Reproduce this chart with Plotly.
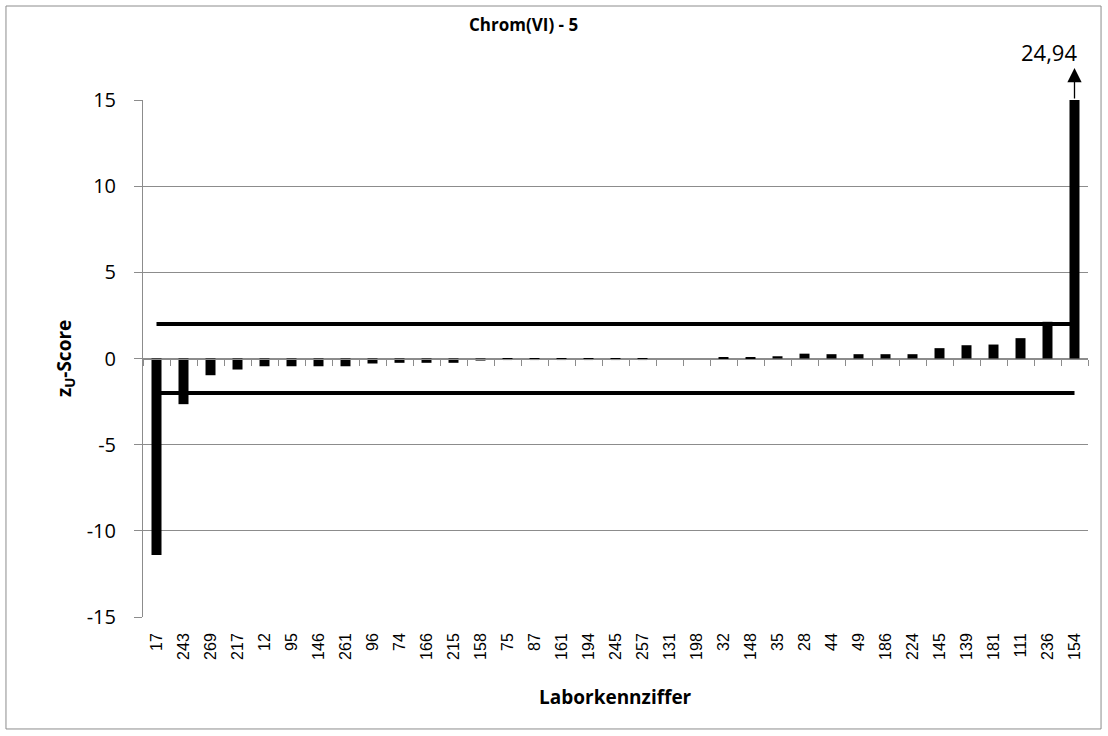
import plotly.graph_objects as go

# Laborkennziffern in Reihenfolge der Darstellung
labs = ["17", "243", "269", "217", "12", "95", "146", "261", "96", "74",
        "166", "215", "158", "75", "87", "161", "194", "245", "257", "131",
        "198", "32", "148", "35", "28", "44", "49", "186", "224", "145",
        "139", "181", "111", "236", "154"]
z_scores = [-11.4, -2.65, -0.97, -0.64, -0.45, -0.45, -0.45, -0.45, -0.29, -0.25,
            -0.25, -0.25, -0.12, -0.09, -0.09, -0.09, -0.09, -0.09, -0.09, 0.0,
            0.0, 0.05, 0.05, 0.13, 0.28, 0.25, 0.25, 0.25, 0.25, 0.6,
            0.77, 0.81, 1.18, 2.13, 24.94]
upper_limit = 2
lower_limit = -2
y_ticks = [-15, -10, -5, 0, 5, 10, 15]
y_tick_text = ["-15", "-10", "-5", "0", "5", "10", "15"]
outlier_label = "24,94"

GRID = "#8c8c8c"
x_range = [-0.5, len(labs) - 0.5]
# paper x of the last category (the clipped outlier)
x_last = (len(labs) - 0.5) / len(labs)

fig = go.Figure()
fig.add_trace(go.Bar(x=labs, y=z_scores, marker={"color": "black", "line": {"width": 0}},
                     showlegend=False))
for lim in (upper_limit, lower_limit):
    fig.add_trace(go.Scatter(x=labs, y=[lim] * len(labs), mode="lines",
                             line={"color": "black", "width": 4}, showlegend=False))
# category axis at zero with ticks between categories
fig.add_trace(go.Scatter(x=labs, y=[0] * len(labs), xaxis="x2", mode="markers",
                         marker={"opacity": 0}, showlegend=False, hoverinfo="skip"))

fig.update_layout(
    width=1108, height=736,
    margin={"l": 143, "r": 20, "t": 100, "b": 119, "autoexpand": False},
    paper_bgcolor="white", plot_bgcolor="white",
    bargap=0.63,
    xaxis={"type": "category", "categoryorder": "array", "categoryarray": labs,
           "range": x_range, "automargin": False,
           "tickangle": -90, "ticks": "", "showgrid": False, "showline": False,
           "ticklabelstandoff": 12,
           "tickfont": {"family": "Liberation Sans", "size": 16, "color": "black"}},
    xaxis2={"type": "category", "categoryorder": "array", "categoryarray": labs,
            "range": x_range, "overlaying": "x", "anchor": "free", "position": 0.5,
            "showticklabels": False, "ticks": "outside", "tickson": "boundaries",
            "ticklen": 6, "tickcolor": GRID, "showline": True, "linecolor": GRID,
            "linewidth": 1, "showgrid": False},
    yaxis={"range": [-15, 15], "tickvals": y_ticks, "ticktext": y_tick_text,
           "showgrid": True, "gridcolor": GRID, "automargin": False,
           "gridwidth": 1, "zeroline": False, "showline": True, "linecolor": GRID,
           "ticks": "outside", "ticklen": 8, "tickcolor": GRID, "ticklabelstandoff": 14,
           "tickfont": {"family": "Open Sans", "size": 20, "color": "black"}},
    shapes=[{"type": "rect", "xref": "paper", "yref": "paper",
             "x0": -0.145, "x1": 1.0138, "y0": -0.2166, "y1": 1.1818,
             "line": {"color": GRID, "width": 1}}],
    annotations=[
        {"text": "<b>Chrom(VI) - 5</b>", "xref": "paper", "yref": "paper",
         "x": 0.403, "y": 1.147, "yanchor": "middle", "showarrow": False,
         "font": {"family": "Open Sans", "size": 17, "color": "black"}},
        {"text": "<b>Laborkennziffer</b>", "xref": "paper", "yref": "paper",
         "x": 0.5, "y": -0.155, "yanchor": "middle", "showarrow": False,
         "font": {"family": "Open Sans", "size": 19, "color": "black"}},
        {"text": "<b>z<sub>U</sub>-Score</b>", "xref": "paper", "yref": "paper",
         "x": -0.083, "y": 0.5, "xanchor": "center", "yanchor": "middle", "textangle": -90,
         "showarrow": False,
         "font": {"family": "Open Sans", "size": 19, "color": "black"}},
        {"text": "", "x": x_last, "xref": "paper", "yref": "paper", "y": 1.062,
         "showarrow": True, "arrowhead": 2, "arrowsize": 2.2, "arrowwidth": 1.3,
         "arrowcolor": "black", "ax": 0, "ay": 32},
        {"text": outlier_label, "x": x_last, "xref": "paper", "yref": "paper", "y": 1.093,
         "xanchor": "right", "yanchor": "middle", "xshift": 4, "showarrow": False,
         "font": {"family": "Open Sans", "size": 22, "color": "black"}},
    ],
)

fig.write_html("out.html", config={"displayModeBar": False},
               post_script="document.body.style.margin = '0';")
